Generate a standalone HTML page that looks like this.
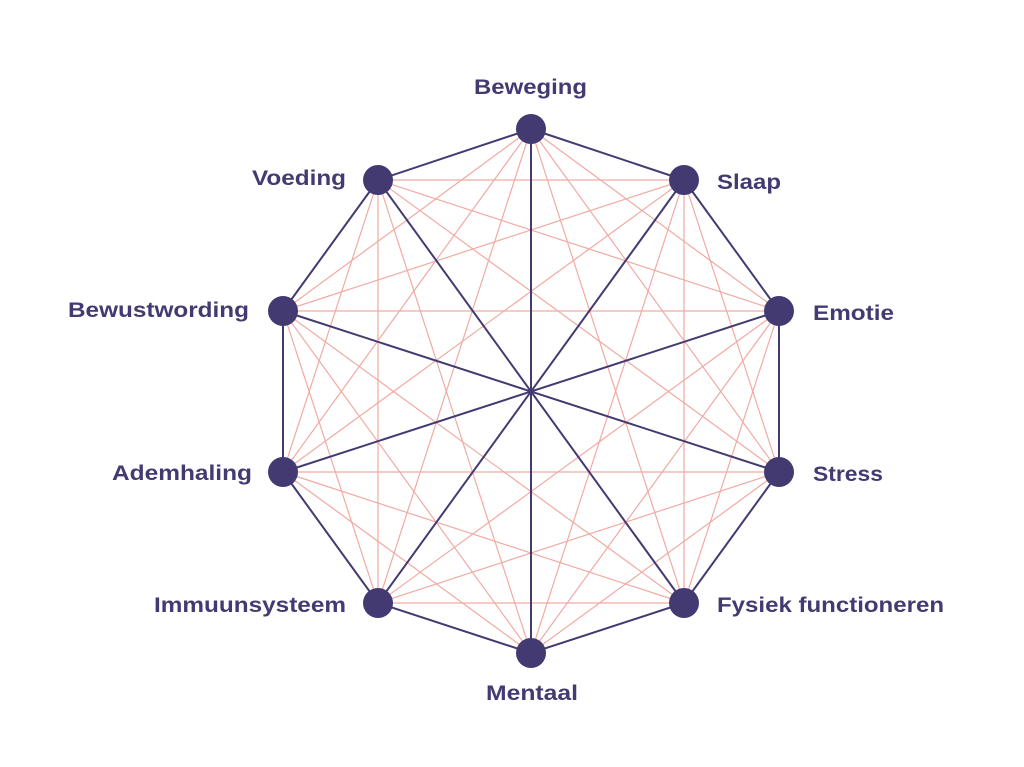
<!DOCTYPE html>
<html><head><meta charset="utf-8"><style>
html,body{margin:0;padding:0;background:#fff;}
svg{display:block}
text{font-family:"Liberation Sans",sans-serif;font-weight:bold;font-size:21px;fill:#433a72}
</style></head><body>
<svg width="1024" height="767" viewBox="0 0 1024 767" xmlns="http://www.w3.org/2000/svg">
<g fill="none" stroke="#f1aaa2" stroke-width="1.2">
<polygon points="531,129 779,311 684,603 378,603 283,311"/>
<polygon points="684,180 779,472 531,653 283,472 378,180"/>
<polygon points="531,129 779,472 378,603 378,180 779,311 531,653 283,311 684,180 684,603 283,472"/>
<polygon points="531,129 684,603 283,311 779,311 378,603"/>
<polygon points="684,180 531,653 378,180 779,472 283,472"/>
</g>
<g fill="none" stroke="#433a72" stroke-width="2">
<polygon points="531,129 684,180 779,311 779,472 684,603 531,653 378,603 283,472 283,311 378,180"/>
<line x1="531" y1="129" x2="531" y2="653"/>
<line x1="684" y1="180" x2="378" y2="603"/>
<line x1="779" y1="311" x2="283" y2="472"/>
<line x1="779" y1="472" x2="283" y2="311"/>
<line x1="684" y1="603" x2="378" y2="180"/>
</g>
<g fill="#433a72">
<circle cx="531" cy="129" r="15"/><circle cx="684" cy="180" r="15"/>
<circle cx="779" cy="311" r="15"/><circle cx="779" cy="472" r="15"/>
<circle cx="684" cy="603" r="15"/><circle cx="531" cy="653" r="15"/>
<circle cx="378" cy="603" r="15"/><circle cx="283" cy="472" r="15"/>
<circle cx="283" cy="311" r="15"/><circle cx="378" cy="180" r="15"/>
</g>
<text x="474" y="94" textLength="113" lengthAdjust="spacingAndGlyphs">Beweging</text>
<text x="717" y="189" textLength="64" lengthAdjust="spacingAndGlyphs">Slaap</text>
<text x="813" y="320" textLength="81" lengthAdjust="spacingAndGlyphs">Emotie</text>
<text x="813" y="481" textLength="70" lengthAdjust="spacingAndGlyphs">Stress</text>
<text x="717" y="612" textLength="227" lengthAdjust="spacingAndGlyphs">Fysiek functioneren</text>
<text x="486" y="700" textLength="92" lengthAdjust="spacingAndGlyphs">Mentaal</text>
<text x="154" y="612" textLength="192" lengthAdjust="spacingAndGlyphs">Immuunsysteem</text>
<text x="112" y="480" textLength="140" lengthAdjust="spacingAndGlyphs">Ademhaling</text>
<text x="68" y="317" textLength="181" lengthAdjust="spacingAndGlyphs">Bewustwording</text>
<text x="252" y="185" textLength="94" lengthAdjust="spacingAndGlyphs">Voeding</text>
</svg>
</body></html>
